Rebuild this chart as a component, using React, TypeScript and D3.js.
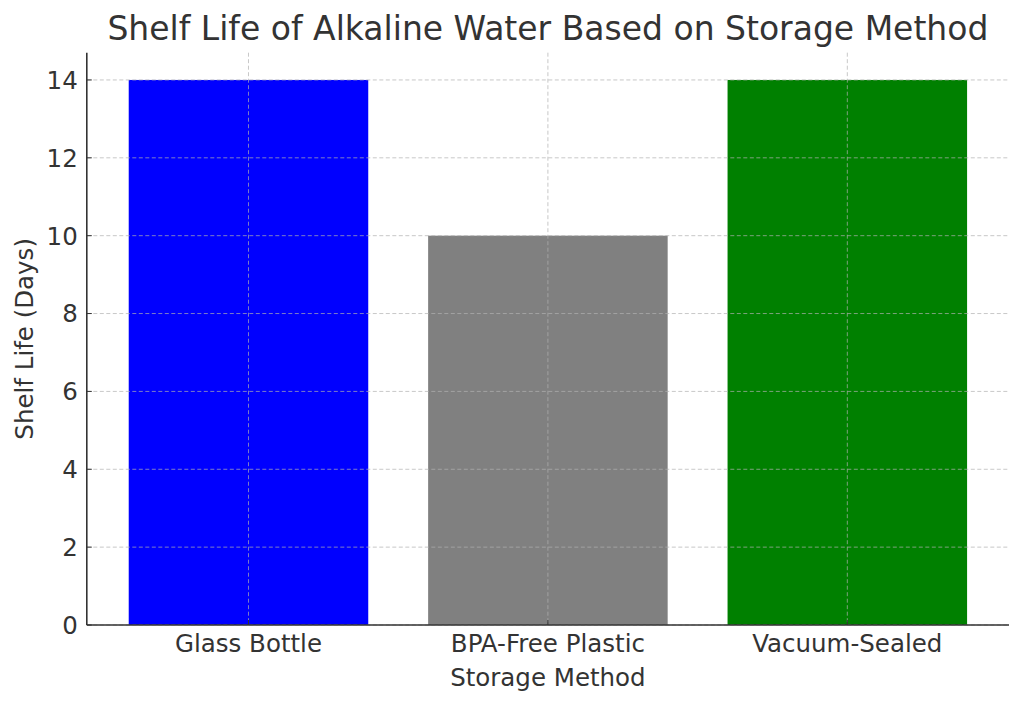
// Bar chart: shelf life of alkaline water by storage method.

import * as d3 from "d3";

const methods = ["Glass Bottle", "BPA-Free Plastic", "Vacuum-Sealed"];
const shelfLife = [14, 10, 14];
const barColors = ["#0000ff", "#808080", "#008000"];
const yTicks = [0, 2, 4, 6, 8, 10, 12, 14];

export default function App() {
  const width = 1024;
  const height = 705;
  const [marginTop, marginRight, marginBottom, marginLeft] = [52.7, 15, 80, 86.8];
  const font = "DejaVu Sans, sans-serif";
  const textColor = "#333333";

  // matplotlib-style padding: bars of width 0.8 at 0..n-1, 5% margins
  const n = methods.length;
  const lo = -0.4;
  const hi = n - 1 + 0.4;
  const pad = (hi - lo) * 0.05;
  const scaleX = d3.scaleLinear([lo - pad, hi + pad], [marginLeft, width - marginRight]);
  const yMax = d3.max(shelfLife) * 1.05;
  const scaleY = d3.scaleLinear([0, yMax], [height - marginBottom, marginTop]);

  const bottom = scaleY(0);
  const left = scaleX(lo - pad);
  const right = scaleX(hi + pad);

  return (
    <svg
      width={width}
      height={height}
      style={{ position: "absolute", left: 0, top: 0, background: "white" }}
      fontFamily={font}
    >
      <title>Shelf life bar chart</title>
      <text
        x={(left + right) / 2}
        y={40}
        textAnchor="middle"
        fontSize={33}
        fill={textColor}
      >
        Shelf Life of Alkaline Water Based on Storage Method
      </text>

      {shelfLife.map((d, i) => (
        <rect
          key={methods[i]}
          x={scaleX(i - 0.4)}
          width={scaleX(0.8) - scaleX(0)}
          y={scaleY(d)}
          height={bottom - scaleY(d)}
          fill={barColors[i]}
        />
      ))}

      {/* grid drawn over the bars */}
      <g stroke="#b0b0b0" strokeOpacity={0.7} strokeWidth={1} strokeDasharray="4,2.5">
        {yTicks.map((t) => (
          <line key={t} x1={left} x2={right} y1={scaleY(t)} y2={scaleY(t)} />
        ))}
        {methods.map((m, i) => (
          <line key={m} x1={scaleX(i)} x2={scaleX(i)} y1={marginTop} y2={bottom} />
        ))}
      </g>

      {/* ticks (inward) */}
      <g stroke={textColor} strokeWidth={1}>
        {yTicks.map((t) => (
          <line key={t} x1={left} x2={left + 5} y1={scaleY(t)} y2={scaleY(t)} />
        ))}
        {methods.map((m, i) => (
          <line key={m} x1={scaleX(i)} x2={scaleX(i)} y1={bottom} y2={bottom - 5} />
        ))}
      </g>

      {/* spines */}
      <g stroke={textColor} strokeWidth={1.6} fill="none">
        <line x1={left} x2={left} y1={marginTop} y2={bottom} />
        <line x1={left} x2={right} y1={bottom} y2={bottom} />
      </g>

      <g fontSize={24.5} fill={textColor}>
        {yTicks.map((t) => (
          <text key={t} x={left - 9} y={scaleY(t)} dy="0.36em" textAnchor="end">
            {t}
          </text>
        ))}
        {methods.map((m, i) => (
          <text key={m} x={scaleX(i)} y={bottom + 27} textAnchor="middle">
            {m}
          </text>
        ))}
        <text x={(left + right) / 2} y={bottom + 61} textAnchor="middle">
          Storage Method
        </text>
        <text
          transform={`translate(33, ${(marginTop + bottom) / 2}) rotate(-90)`}
          textAnchor="middle"
        >
          Shelf Life (Days)
        </text>
      </g>
    </svg>
  );
}
